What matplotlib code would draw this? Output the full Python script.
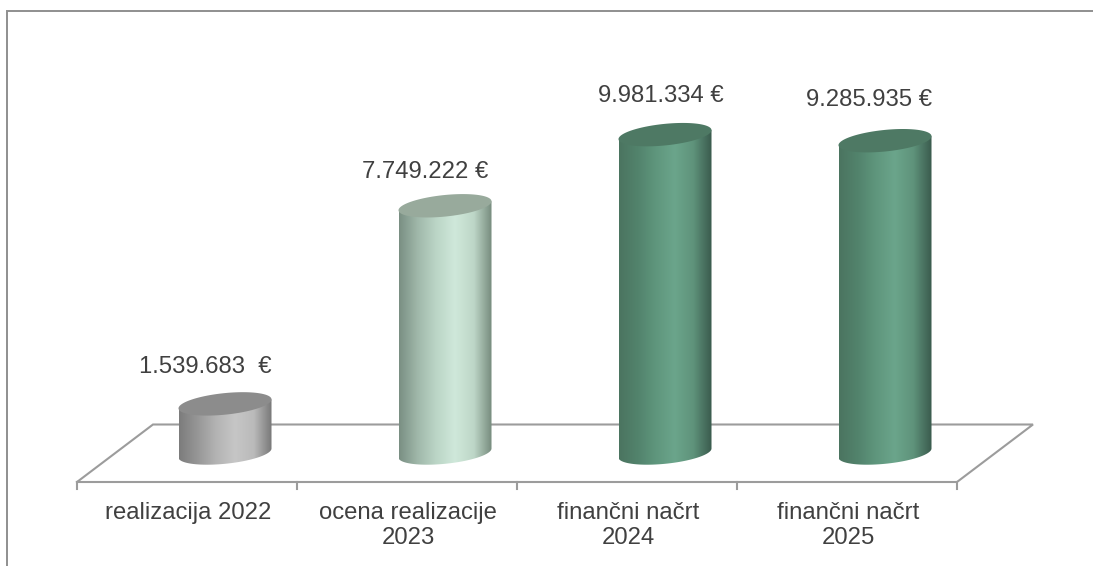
import numpy as np
import matplotlib
matplotlib.use("Agg")
import matplotlib.pyplot as plt
from matplotlib.colors import LinearSegmentedColormap
from matplotlib.lines import Line2D
from matplotlib.patches import Polygon
from matplotlib.transforms import Affine2D

categories = ["realizacija 2022", "ocena realizacije\n2023", "finančni načrt\n2024", "finančni načrt\n2025"]
# bar heights as drawn, in millions (the last bar is drawn taller than its label)
heights = [1.54, 7.75, 9.98, 9.79]
value_labels = ["1.539.683  €", "7.749.222 €", "9.981.334 €", "9.285.935 €"]
grey = ["#7c7c7c", "#979797", "#b4b4b4", "#c6c6c6", "#bababa", "#747474"]
light = ["#7a8f83", "#a0b8aa", "#bcd6c7", "#cfe8da", "#bdd6c7", "#728779"]
dark = ["#4b7460", "#52836c", "#5f967d", "#6ba58b", "#5f937b", "#3a5a4d"]
bar_colors = [grey, light, dark, dark]
top_colors = ["#8c8c8c", "#98aa9c", "#4e7964", "#4e7964"]

W, H = 1093, 566
PX_PER_CAT = 220.0
PX_PER_M = 31.9
X0 = 225.0   # pixel of category 0
Y0 = 453.0   # pixel of value 0

plt.rcParams["font.family"] = ["Liberation Sans", "DejaVu Sans"]
fig = plt.figure(figsize=(W / 100, H / 100), dpi=100)
ax = fig.add_axes([0, 0, 1, 1])
ax.axis("off")
xlim = (-X0 / PX_PER_CAT, (W - X0) / PX_PER_CAT)
ylim = ((Y0 - H) / PX_PER_M, Y0 / PX_PER_M)

# outer frame is placed in image pixels
px = Affine2D().scale(1, -1).translate(0, H)
line_col = "#9c9c9c"
fig.add_artist(Line2D([7, 7, W], [H, 10.5, 10.5], transform=px, color="#8f8f8f", lw=1.4,
                      solid_joinstyle="miter"))

# floor and ticks
ax.plot([(x - X0) / PX_PER_CAT for x in (77, 153, 1033, 957, 77)],
        [(Y0 - y) / PX_PER_M for y in (482, 424.5, 424.5, 482, 482)],
        color=line_col, lw=1.5, zorder=1, solid_joinstyle="miter")
for x in (77, 297, 517, 737, 957):
    ax.plot([(x - X0) / PX_PER_CAT] * 2, [(Y0 - 482) / PX_PER_M, (Y0 - 488.5) / PX_PER_M],
            color=line_col, lw=1.5, zorder=1)

a = 46.5 / PX_PER_CAT    # half width of a cylinder
b = 10.8 / PX_PER_M      # half height of the end ellipse
s = 4.5 / PX_PER_M       # tilt of the ellipse, right side higher
t = np.linspace(0, 2 * np.pi, 200)
front = np.linspace(0, np.pi, 100)

for i, h in enumerate(heights):
    # body: front edge of the base ellipse, then up and across the top
    bx = np.r_[i + a * np.cos(front), i - a, i + a]
    by = np.r_[-b * np.sin(front) + s * np.cos(front), h - s, h + s]
    body = Polygon(np.c_[bx, by], closed=True, fc="none", ec="none", zorder=3)
    ax.add_patch(body)
    cmap = LinearSegmentedColormap.from_list("bar%d" % i, bar_colors[i])
    grad = ax.imshow(np.linspace(0, 1, 256)[None, :], cmap=cmap, aspect="auto", zorder=3,
                     extent=(i - a, i + a, -b - s, h + s), interpolation="bilinear")
    grad.set_clip_path(body)
    ex = i + a * np.cos(t)
    ey = h + b * np.sin(t) + s * np.cos(t)
    ax.add_patch(Polygon(np.c_[ex, ey], closed=True, fc=top_colors[i], ec="none", zorder=4))

ax.set_xlim(xlim)
ax.set_ylim(ylim)

text_col = "#404040"
label_x = [205, 425.5, 661, 869.5]
label_y = [367, 172, 96, 100]
for lx, ly, lab in zip(label_x, label_y, value_labels):
    fig.text(lx / W, 1 - ly / H, lab, ha="center", va="center", color=text_col, fontsize=17.2)
for i, lab in enumerate(categories):
    fig.text((188 + 220 * i) / W, 1 - 502 / H, lab, ha="center", va="top", color=text_col,
             fontsize=17.2, linespacing=1.18)

fig.savefig("out.png", dpi=100, facecolor="white")
